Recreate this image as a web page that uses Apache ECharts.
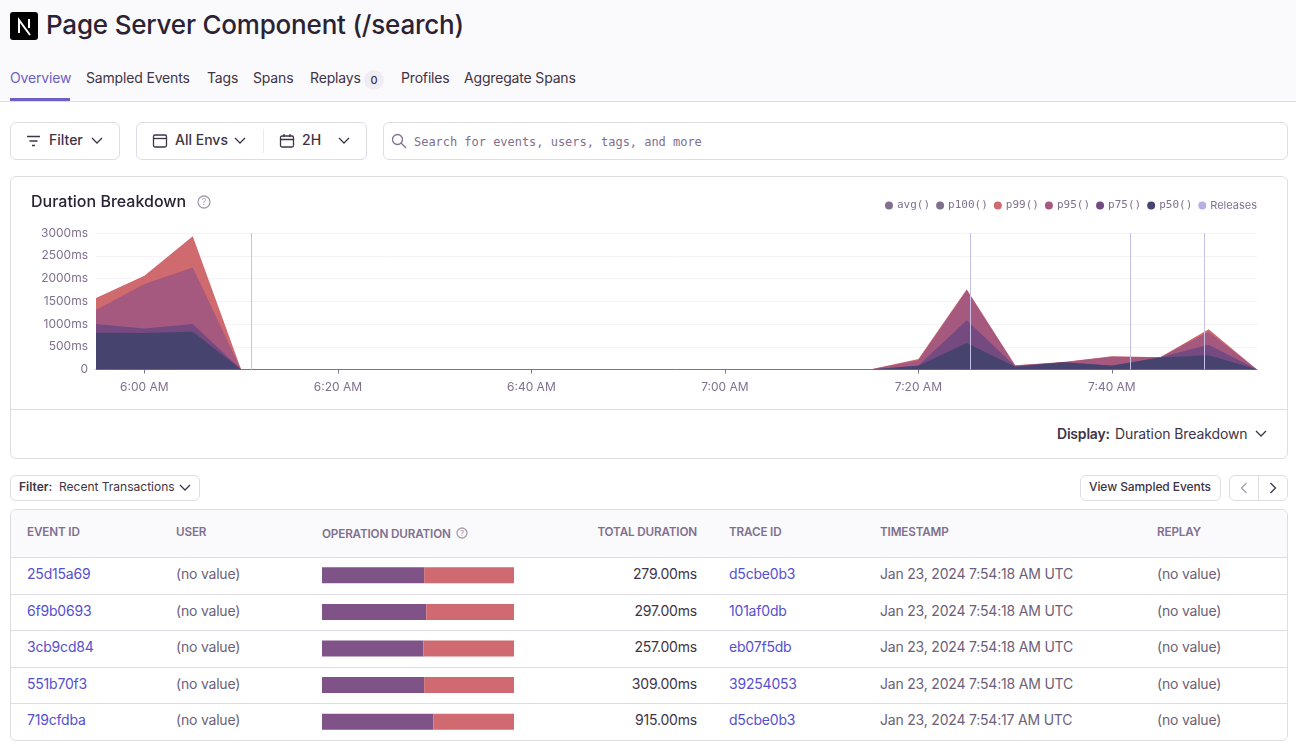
<!DOCTYPE html>
<html>
<head>
<meta charset="utf-8">
<script src="https://cdn.jsdelivr.net/npm/echarts@6/dist/echarts.min.js"></script>
<style>
html, body { margin: 0; padding: 0; background: #fff; }
body { width: 1296px; height: 753px; overflow: hidden; position: relative; font-family: Inter, "Noto Sans", sans-serif; color: #2b2233; font-size: 14px; }
.abs { position: absolute; white-space: nowrap; }
.box { position: absolute; border: 1px solid #e0dce5; border-radius: 6px; background: #fff; box-sizing: border-box; }
.head { position: absolute; left: 0; top: 0; width: 1296px; height: 102px; background: #faf9fb; border-bottom: 1px solid #e0dce5; box-sizing: border-box; }
.tab { position: absolute; top: 69px; color: #3e3446; font-size: 14px; letter-spacing: -0.17px; white-space: nowrap; }
.th { position: absolute; color: #80708f; font-size: 11.7px; font-weight: 600; white-space: nowrap; letter-spacing: -0.15px; }
.td { position: absolute; font-size: 14px; color: #3e3446; white-space: nowrap; letter-spacing: -0.2px; }
.muted { color: #6c5f78; }
.link { color: #564fd0; }
.line { position: absolute; left: 11px; width: 1276px; height: 1px; background: #e0dce5; }
svg { position: absolute; fill: none; stroke: #3e3446; stroke-width: 1.3; }
</style>
</head>
<body>
<div class="head"></div>
<div class="abs" style="left:10px;top:12px;width:28px;height:28px;background:#000;border-radius:3px;"></div>
<svg style="left:10px;top:12px;stroke:#fff;stroke-width:2" width="28" height="28"><path d="M9 21V8l11 15M19 7v9"/></svg>
<div class="abs" style="left:46px;top:9px;font-size:26px;font-weight:500;color:#2b2233;letter-spacing:-0.2px;">Page Server Component (/search)</div>
<div class="tab" style="left:10px;color:#6c5fc7;">Overview</div>
<div class="tab" style="left:86px;">Sampled Events</div>
<div class="tab" style="left:207px;">Tags</div>
<div class="tab" style="left:253px;">Spans</div>
<div class="tab" style="left:310px;">Replays</div>
<div class="abs" style="left:364px;top:70px;width:20px;height:20px;border-radius:10px;background:#f0ecf3;font-size:11px;text-align:center;line-height:20px;color:#3e3446;font-weight:500;">0</div>
<div class="tab" style="left:401px;">Profiles</div>
<div class="tab" style="left:464px;">Aggregate Spans</div>
<div class="abs" style="left:10px;top:98px;width:60px;height:3px;background:#6c5fc7;"></div>

<div class="box" style="left:10px;top:122px;width:110px;height:38px;"></div>
<svg style="left:26px;top:134px" width="16" height="14"><path d="M1 2.5h13M3.5 7h8M6 11.5h3"/></svg>
<div class="abs" style="left:49px;top:131px;font-weight:500;color:#3e3446;">Filter</div>
<svg style="left:91px;top:137px" width="12" height="8"><path d="M1 1l5 5 5-5"/></svg>
<div class="box" style="left:136px;top:122px;width:231px;height:38px;"></div>
<svg style="left:152px;top:133px" width="16" height="16"><rect x="1.5" y="2" width="13" height="12" rx="1.5"/><path d="M1.5 5.5h13"/></svg>
<div class="abs" style="left:175px;top:131px;font-weight:500;color:#3e3446;">All Envs</div>
<svg style="left:234px;top:137px" width="12" height="8"><path d="M1 1l5 5 5-5"/></svg>
<div class="abs" style="left:263px;top:129px;width:1px;height:24px;background:#eee9f1;"></div>
<svg style="left:279px;top:133px" width="16" height="16"><rect x="1.5" y="3" width="13" height="11" rx="1.5"/><path d="M1.5 6.5h13M5 1v3M11 1v3"/></svg>
<div class="abs" style="left:302px;top:131px;font-weight:500;color:#3e3446;">2H</div>
<svg style="left:338px;top:137px" width="12" height="8"><path d="M1 1l5 5 5-5"/></svg>
<div class="box" style="left:383px;top:122px;width:905px;height:38px;"></div>
<svg style="left:391px;top:133px;stroke:#80708f" width="16" height="16"><circle cx="6.5" cy="6.5" r="5"/><path d="M10 10l5 5"/></svg>
<div class="abs" style="left:414px;top:135px;font-family:'DejaVu Sans Mono',monospace;font-size:12px;color:#80708f;letter-spacing:-0.03px;">Search for events, users, tags, and more</div>

<div class="box" style="left:10px;top:176px;width:1278px;height:283px;"></div>
<div id="mainChart" class="abs" style="left:11px;top:177px;width:1276px;height:232px;"></div>
<svg style="left:197px;top:195px;stroke:#a79db0" width="14" height="14"><circle cx="7" cy="7" r="6"/></svg>
<div class="abs" style="left:197px;top:195px;width:14px;font-size:9px;line-height:14px;text-align:center;color:#a79db0;">?</div>
<div class="abs" style="left:10px;top:409px;width:1278px;height:1px;background:#e0dce5;"></div>
<div class="abs" style="left:1057px;top:425px;font-size:14px;font-weight:600;color:#3e3446;letter-spacing:-0.2px;">Display:</div>
<div class="abs" style="left:1115px;top:425px;font-size:14px;color:#3e3446;letter-spacing:-0.1px;">Duration Breakdown</div>
<svg style="left:1255px;top:430px" width="12" height="8"><path d="M1 1l5 5 5-5"/></svg>

<div class="box" style="left:10px;top:475px;width:190px;height:26px;"></div>
<div class="abs" style="left:19px;top:479px;font-size:12px;font-weight:600;color:#3e3446;">Filter:</div>
<div class="abs" style="left:59px;top:479px;font-size:12px;color:#3e3446;">Recent Transactions</div>
<svg style="left:179px;top:484px" width="12" height="8"><path d="M1 1l5 5 5-5"/></svg>
<div class="box" style="left:1080px;top:475px;width:141px;height:26px;"></div>
<div class="abs" style="left:1089px;top:479px;font-size:12px;font-weight:500;color:#3e3446;letter-spacing:-0.08px;">View Sampled Events</div>
<div class="box" style="left:1229px;top:475px;width:59px;height:26px;"></div>
<div class="abs" style="left:1258px;top:475px;width:1px;height:26px;background:#e0dce5;"></div>
<svg style="left:1240px;top:482px;stroke:#a79db0" width="8" height="12"><path d="M6.5 1l-5 5 5 5"/></svg>
<svg style="left:1269px;top:482px" width="8" height="12"><path d="M1.5 1l5 5-5 5"/></svg>

<div class="box" style="left:10px;top:509px;width:1278px;height:232px;"></div>
<div class="abs" style="left:11px;top:510px;width:1276px;height:47px;background:#faf9fb;border-radius:6px 6px 0 0;"></div>
<div id="tableRows"></div>
<div id="durationChart" class="abs" style="left:322px;top:557px;width:192px;height:183px;"></div>

<script>
var times = ['5:55', '6:00', '6:05', '6:10', '6:15', '6:20', '6:25', '6:30', '6:35', '6:40', '6:45', '6:50', '6:55',
    '7:00', '7:05', '7:10', '7:15', '7:20', '7:25', '7:30', '7:35', '7:40', '7:45', '7:50', '7:55'];
var p99Values = [1570, 2060, 2930, 0, 0, 0, 0, 0, 0, 0, 0, 0, 0, 0, 0, 0, 0, 230, 1765, 95, 165, 293, 270, 887, 0];
var p95Values = [1310, 1880, 2240, 0, 0, 0, 0, 0, 0, 0, 0, 0, 0, 0, 0, 0, 0, 205, 1740, 90, 160, 280, 268, 830, 0];
var p75Values = [1000, 900, 1000, 0, 0, 0, 0, 0, 0, 0, 0, 0, 0, 0, 0, 0, 0, 90, 1085, 70, 160, 90, 268, 545, 0];
var p50Values = [810, 800, 830, 0, 0, 0, 0, 0, 0, 0, 0, 0, 0, 0, 0, 0, 0, 80, 580, 60, 160, 80, 265, 315, 0];
var releaseTimes = ['6:11', '7:25:24', '7:41:55', '7:49:30'];
var yTicks = [0, 500, 1000, 1500, 2000, 2500, 3000];

var eventIds = ['25d15a69', '6f9b0693', '3cb9cd84', '551b70f3', '719cfdba'];
var userValues = ['(no value)', '(no value)', '(no value)', '(no value)', '(no value)'];
var totalDurations = ['279.00ms', '297.00ms', '257.00ms', '309.00ms', '915.00ms'];
var traceIds = ['d5cbe0b3', '101af0db', 'eb07f5db', '39254053', 'd5cbe0b3'];
var timestamps = ['Jan 23, 2024 7:54:18 AM UTC', 'Jan 23, 2024 7:54:18 AM UTC', 'Jan 23, 2024 7:54:18 AM UTC',
    'Jan 23, 2024 7:54:18 AM UTC', 'Jan 23, 2024 7:54:17 AM UTC'];
var replayValues = ['(no value)', '(no value)', '(no value)', '(no value)', '(no value)'];
var dbShare = [53.2, 54.3, 52.8, 53.2, 58];
var httpShare = [46.8, 45.7, 47.2, 46.8, 42];

function toTime(s) {
    var p = s.split(':');
    return new Date(2024, 0, 23, +p[0], +p[1], +(p[2] || 0)).getTime();
}
function pairs(values) {
    return values.map(function (v, i) { return [toTime(times[i]), v]; });
}
function areaSeries(name, values, color) {
    return {
        name: name,
        type: 'line',
        data: pairs(values),
        showSymbol: false,
        itemStyle: { color: color },
        lineStyle: { width: 0 },
        areaStyle: { color: color, opacity: 1 }
    };
}
function legendItem(name, mono) {
    return { name: name, icon: 'circle', textStyle: mono ? { fontFamily: 'DejaVu Sans Mono', fontSize: 11 } : { fontFamily: 'Inter', fontSize: 11 } };
}

var myChart = echarts.init(document.getElementById('mainChart'));
myChart.setOption({
    animation: false,
    title: {
        text: 'Duration Breakdown',
        left: 15,
        top: 12,
        textStyle: { color: '#2b2233', fontSize: 16, fontWeight: 500, fontFamily: 'Inter' }
    },
    legend: {
        right: 25,
        top: 18,
        itemWidth: 8,
        itemHeight: 8,
        itemGap: 6,
        inactiveColor: '#80708f',
        textStyle: { color: '#80708f', padding: [0, 0, 0, -1] },
        selected: { 'avg()': false, 'p100()': false },
        data: [legendItem('avg()', true), legendItem('p100()', true), legendItem('p99()', true), legendItem('p95()', true),
            legendItem('p75()', true), legendItem('p50()', true), legendItem('Releases', false)]
    },
    grid: { left: 85, right: 30, top: 56, bottom: 39.5 },
    xAxis: {
        type: 'time',
        min: toTime('5:55'),
        max: toTime('7:55'),
        splitNumber: 5,
        axisLine: { lineStyle: { color: '#80708f' } },
        axisTick: { length: 4, lineStyle: { color: '#80708f' } },
        splitLine: { show: false },
        axisLabel: {
            color: '#80708f',
            fontSize: 12,
            fontFamily: 'Inter',
            margin: 12,
            showMinLabel: false,
            showMaxLabel: false,
            formatter: function (value) {
                var d = new Date(value);
                return (d.getHours() % 12 || 12) + ':' + ('0' + d.getMinutes()).slice(-2) + (d.getHours() < 12 ? ' AM' : ' PM');
            }
        }
    },
    yAxis: {
        type: 'value',
        min: yTicks[0],
        max: yTicks[yTicks.length - 1],
        interval: 500,
        axisLine: { show: false },
        axisTick: { show: false },
        splitLine: { lineStyle: { color: '#f4f2f6' } },
        axisLabel: {
            color: '#80708f',
            fontSize: 12,
            fontFamily: 'Inter',
            margin: 8,
            formatter: function (value) { return value === 0 ? '0' : value + 'ms'; }
        }
    },
    series: [
        { name: 'avg()', type: 'line', data: [], itemStyle: { color: '#80708f' } },
        { name: 'p100()', type: 'line', data: [], itemStyle: { color: '#80708f' } },
        areaSeries('p99()', p99Values, '#cf6a6e'),
        areaSeries('p95()', p95Values, '#a6597f'),
        areaSeries('p75()', p75Values, '#754a80'),
        areaSeries('p50()', p50Values, '#47436f'),
        {
            name: 'Releases',
            type: 'line',
            data: [],
            z: 5,
            itemStyle: { color: '#b9aee3' },
            markLine: {
                silent: true,
                symbol: 'none',
                label: { show: false },
                lineStyle: { color: '#c9c1e8', type: 'solid', width: 1 },
                data: releaseTimes.map(function (t) { return { xAxis: toTime(t) }; })
            }
        }
    ]
});

var barChart = echarts.init(document.getElementById('durationChart'));
barChart.setOption({
    animation: false,
    grid: { left: 0, right: 0, top: 0, bottom: 0 },
    xAxis: { type: 'value', min: 0, max: 100, show: false },
    yAxis: { type: 'category', inverse: true, data: eventIds, show: false },
    series: [
        { type: 'bar', stack: 'ops', barWidth: 16, data: dbShare, itemStyle: { color: '#7f5387' } },
        { type: 'bar', stack: 'ops', barWidth: 16, data: httpShare, itemStyle: { color: '#cf6a70' } }
    ]
});

// table text
var html = '';
function cell(cls, style, text) {
    html += '<div class="' + cls + '" style="' + style + '">' + text + '</div>';
}
cell('th', 'left:27px;top:525px;', 'EVENT ID');
cell('th', 'left:176px;top:525px;', 'USER');
cell('th', 'left:322px;top:527px;', 'OPERATION DURATION');
cell('th', 'right:599px;top:525px;', 'TOTAL DURATION');
cell('th', 'left:729px;top:525px;', 'TRACE ID');
cell('th', 'left:880px;top:525px;', 'TIMESTAMP');
cell('th', 'left:1157px;top:525px;', 'REPLAY');
html += '<svg style="left:456px;top:527px;stroke:#a79db0" width="12" height="12"><circle cx="6" cy="6" r="5"/></svg>';
cell('abs', 'left:456px;top:527px;width:12px;font-size:8px;line-height:12px;text-align:center;color:#a79db0;', '?');
var rowTops = [557, 593.5, 630, 666.5, 703];
eventIds.forEach(function (id, i) {
    var top = rowTops[i];
    var textTop = 'top:' + (top + 8) + 'px;';
    html += '<div class="line" style="top:' + top + 'px"></div>';
    cell('td link', 'left:27px;' + textTop, id);
    cell('td muted', 'left:176px;' + textTop, userValues[i]);
    cell('td', 'right:599px;' + textTop, totalDurations[i]);
    cell('td link', 'left:729px;' + textTop, traceIds[i]);
    cell('td muted', 'left:880px;' + textTop, timestamps[i]);
    cell('td muted', 'left:1157px;' + textTop, replayValues[i]);
});
document.getElementById('tableRows').innerHTML = html;

window.addEventListener('resize', function () {
    myChart.resize();
    barChart.resize();
});
</script>
</body>
</html>
